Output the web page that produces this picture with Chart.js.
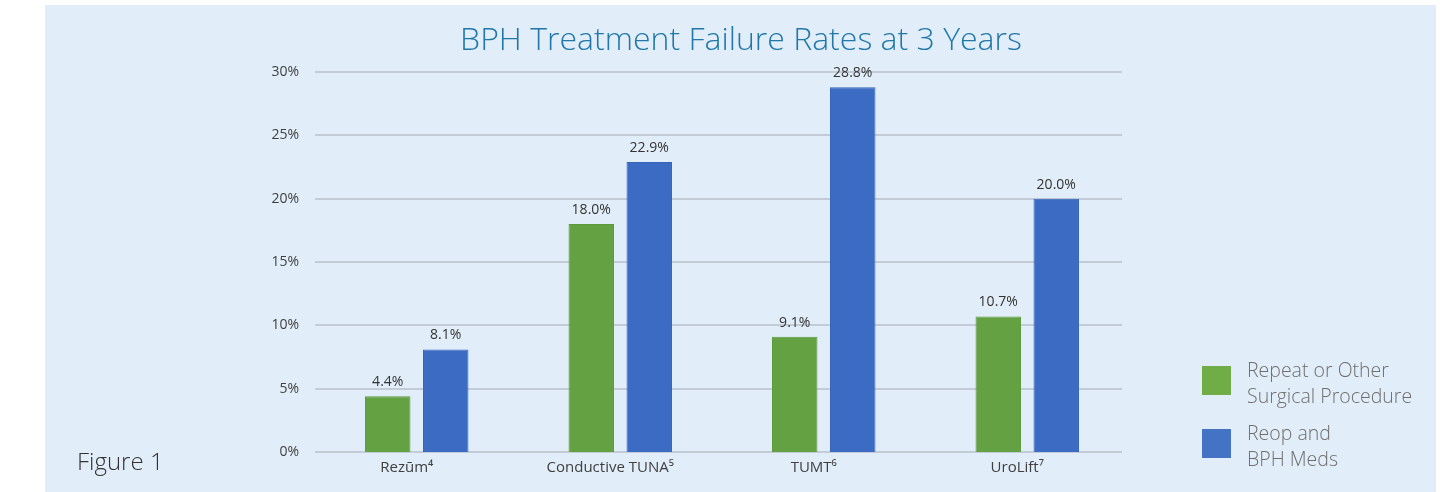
<!DOCTYPE html>
<html>
<head>
<meta charset="utf-8">
<script src="https://cdn.jsdelivr.net/npm/chart.js@4.4.1/dist/chart.umd.min.js"></script>
<style>
  html, body { margin: 0; padding: 0; background: #ffffff; }
  #panel { position: absolute; left: 45px; top: 5px; width: 1391px; height: 487px; background: #e1eef9; }
  #wrap { position: absolute; left: 0; top: 0; width: 1448px; height: 492px; }
</style>
</head>
<body>
<div id="panel"></div>
<div id="wrap"><canvas id="c" width="1448" height="492"></canvas></div>
<script>
const categories = ["Rezūm⁴", "Conductive TUNA⁵", "TUMT⁶", "UroLift⁷"];
const repeatSurgical = [4.4, 18.0, 9.1, 10.7];
const reopMeds = [8.1, 22.9, 28.8, 20.0];
const seriesNames = [["Repeat or Other", "Surgical Procedure"], ["Reop and", "BPH Meds"]];
const yTicks = [0, 5, 10, 15, 20, 25, 30];
const titleText = "BPH Treatment Failure Rates at 3 Years";
const figureText = "Figure 1";

const barColors = ["#63a143", "#3b6bc3"];
const legendColors = ["#70ad47", "#4472c4"];
const gridColor = '#c3ccd6';

const gridPlugin = {
  id: 'customGrid',
  beforeDatasetsDraw(chart) {
    const ctx = chart.ctx;
    const y = chart.scales.y;
    const left = chart.chartArea.left;
    const right = left + (chart.chartArea.right - left) * 0.9914;
    ctx.save();
    ctx.strokeStyle = gridColor;
    ctx.lineWidth = 2;
    yTicks.forEach(v => {
      const py = Math.round(y.getPixelForValue(v));
      ctx.beginPath();
      ctx.moveTo(left, py);
      ctx.lineTo(right, py);
      ctx.stroke();
    });
    ctx.restore();
  }
};

const decorPlugin = {
  id: 'decor',
  afterDatasetsDraw(chart) {
    const ctx = chart.ctx;
    ctx.save();
    // data labels
    ctx.font = '14px "Open Sans", sans-serif';
    ctx.fillStyle = '#333333';
    ctx.textAlign = 'center';
    ctx.textBaseline = 'bottom';
    chart.data.datasets.forEach((ds, di) => {
      const meta = chart.getDatasetMeta(di);
      meta.data.forEach((bar, i) => {
        ctx.fillText(ds.data[i].toFixed(1) + '%', bar.x, bar.y - 7);
      });
    });
    // title
    ctx.font = '300 32px "Open Sans", sans-serif';
    ctx.fillStyle = '#2178a8';
    ctx.textAlign = 'center';
    ctx.textBaseline = 'alphabetic';
    ctx.fillText(titleText, 741, 50);
    // figure label
    ctx.font = '300 24px "Open Sans", sans-serif';
    ctx.fillStyle = '#333333';
    ctx.textAlign = 'left';
    ctx.fillText(figureText, 77, 470);
    // legend
    const boxes = [366, 429];
    ctx.font = '300 19.5px "Open Sans", sans-serif';
    seriesNames.forEach((lines, i) => {
      ctx.fillStyle = legendColors[i];
      ctx.fillRect(1202, boxes[i], 29, 29);
      ctx.fillStyle = '#6e6e6e';
      ctx.textBaseline = 'middle';
      ctx.fillText(lines[0], 1247, boxes[i] + 5);
      ctx.fillText(lines[1], 1247, boxes[i] + 31);
    });
    ctx.restore();
  }
};

new Chart(document.getElementById('c'), {
  type: 'bar',
  data: {
    labels: categories,
    datasets: [
      { label: seriesNames[0].join(' '), data: repeatSurgical, backgroundColor: barColors[0], borderColor: '#5a9a3c', borderWidth: 1 },
      { label: seriesNames[1].join(' '), data: reopMeds, backgroundColor: barColors[1], borderColor: '#3463bb', borderWidth: 1 }
    ]
  },
  options: {
    responsive: false,
    animation: false,
    layout: { padding: { left: 0, top: 72, right: 319, bottom: 0 } },
    datasets: { bar: { categoryPercentage: 0.570, barPercentage: 0.784 } },
    plugins: { legend: { display: false }, title: { display: false }, tooltip: { enabled: false } },
    scales: {
      x: {
        afterFit(scale) { scale.height = 40; },
        grid: { display: false, drawTicks: false },
        border: { display: false },
        ticks: { color: '#404040', font: { family: '"Open Sans", sans-serif', size: 15 }, padding: 7, labelOffset: -10 }
      },
      y: {
        min: 0, max: 30,
        afterFit(scale) { scale.width = 315; },
        afterBuildTicks(scale) { scale.ticks = yTicks.map(v => ({ value: v })); },
        grid: { display: false, drawTicks: false },
        border: { display: false },
        ticks: {
          color: '#404040', font: { family: '"Open Sans", sans-serif', size: 14 }, padding: 16,
          callback: v => v + '%'
        }
      }
    }
  },
  plugins: [gridPlugin, decorPlugin]
});
</script>
</body>
</html>
